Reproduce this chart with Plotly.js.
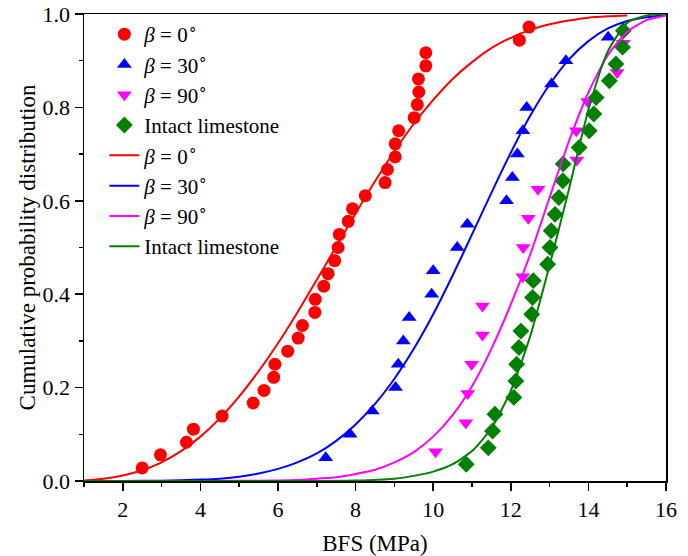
<!DOCTYPE html>
<html>
<head>
<meta charset="utf-8">
<script src="https://cdn.plot.ly/plotly-3.0.1.min.js"></script>
<style>html,body{margin:0;padding:0;background:#fff;}#chart{width:688px;height:556px;}</style>
</head>
<body>
<div id="chart"></div>
<script>
// Measured data (BFS in MPa, cumulative probability)
const redX = [2.50,2.97,3.64,3.82,4.56,5.36,5.64,5.89,5.92,6.25,6.52,6.63,6.95,6.96,7.18,7.29,7.46,7.55,7.58,7.81,7.92,8.25,8.76,8.82,9.02,9.02,9.11,9.51,9.59,9.63,9.62,9.81,9.81,12.22,12.47];
const redY = [0.028,0.056,0.083,0.111,0.139,0.167,0.194,0.222,0.250,0.278,0.306,0.333,0.361,0.389,0.417,0.444,0.472,0.500,0.528,0.556,0.583,0.611,0.639,0.667,0.694,0.722,0.750,0.778,0.806,0.833,0.861,0.889,0.917,0.944,0.972];

const blueX = [7.23,7.86,8.43,9.03,9.10,9.23,9.38,9.96,10.00,10.62,10.88,11.89,12.04,12.17,12.31,12.41,13.05,13.42,14.51];
const blueY = [0.05,0.10,0.15,0.20,0.25,0.30,0.35,0.40,0.45,0.50,0.55,0.60,0.65,0.70,0.75,0.80,0.85,0.90,0.95];

const magX = [10.06,10.84,10.89,10.99,11.27,11.27,12.31,12.32,12.45,12.70,13.70,13.69,13.98,14.74,14.90];
const magY = [0.0625,0.125,0.1875,0.25,0.3125,0.375,0.4375,0.5,0.5625,0.625,0.6875,0.75,0.8125,0.875,0.9375];

const grnX = [10.85,11.42,11.53,11.59,12.08,12.13,12.15,12.21,12.26,12.54,12.56,12.58,12.95,13.01,13.04,13.14,13.24,13.34,13.35,13.76,14.02,14.14,14.20,14.54,14.71,14.88,14.90];
const grnY = [0.036,0.071,0.107,0.143,0.179,0.214,0.250,0.286,0.321,0.357,0.393,0.429,0.464,0.500,0.536,0.571,0.607,0.643,0.679,0.714,0.750,0.786,0.821,0.857,0.893,0.929,0.964];

// Fitted curves
const redFitX = [1,1.5,2,2.5,3,3.5,4,4.5,5,5.5,6,6.5,7,7.5,8,8.5,9,9.5,10,10.5,11,11.5,12,12.5,13,13.5,14,14.5,15];
const redFitY = [0.001,0.005,0.012,0.023,0.040,0.064,0.095,0.134,0.181,0.235,0.295,0.361,0.431,0.502,0.573,0.642,0.706,0.765,0.816,0.861,0.897,0.927,0.949,0.966,0.978,0.986,0.992,0.995,0.997];

const blueFitX = [1,2,3,4,4.5,5,5.5,6,6.5,7,7.5,8,8.5,9,9.5,10,10.5,11,11.5,12,12.5,13,13.5,14,14.5,15,15.5,16];
const blueFitY = [0,0.0001,0.0006,0.003,0.005,0.009,0.016,0.026,0.040,0.059,0.086,0.121,0.165,0.219,0.283,0.357,0.440,0.528,0.617,0.703,0.782,0.849,0.903,0.942,0.969,0.985,0.993,0.998];

const magFitX = [1,3,5,6,6.5,7,7.5,8,8.5,9,9.5,10,10.5,11,11.5,12,12.5,13,13.5,14,14.5,15,15.5,16];
const magFitY = [0,0,0.0003,0.001,0.002,0.005,0.008,0.015,0.024,0.040,0.062,0.095,0.141,0.203,0.283,0.378,0.485,0.607,0.728,0.832,0.912,0.962,0.987,0.997];

const grnFitX = [1,4,7,8,9,9.5,10,10.5,11,11.5,12,12.5,13,13.5,14,14.5,15,15.5,16];
const grnFitY = [0,0,0.0002,0.001,0.005,0.011,0.020,0.036,0.064,0.113,0.193,0.310,0.462,0.625,0.795,0.920,0.981,0.997,1.0];

const names = ['<i>β</i> = 0<sup>∘</sup>', '<i>β</i> = 30<sup>∘</sup>', '<i>β</i> = 90<sup>∘</sup>', 'Intact limestone'];
const colors = ['#FF0000', '#0000FF', '#FF00FF', '#008000'];

const pts = [[redX, redY, 'circle'], [blueX, blueY, 'triangle-up'], [magX, magY, 'triangle-down'], [grnX, grnY, 'diamond']];
const fits = [[redFitX, redFitY], [blueFitX, blueFitY], [magFitX, magFitY], [grnFitX, grnFitY]];

const traces = [];
pts.forEach((p, i) => {
  traces.push({x: p[0], y: p[1], type: 'scatter', mode: 'markers', name: names[i],
    marker: {symbol: p[2], size: 13, color: colors[i], line: {width: 0}}, cliponaxis: false});
});
fits.forEach((f, i) => {
  traces.push({x: f[0], y: f[1], type: 'scatter', mode: 'lines', name: names[i],
    line: {color: colors[i], width: 2, shape: 'spline', smoothing: 0.6}});
});

const fontFam = '"Liberation Serif", "Times New Roman", serif';
const layout = {
  width: 688, height: 556,
  margin: {l: 84, r: 22, t: 14, b: 75, autoexpand: false},
  paper_bgcolor: '#fff', plot_bgcolor: '#fff',
  font: {family: fontFam, color: '#000', size: 22},
  showlegend: true,
  legend: {x: 0.035, y: 1.0, xanchor: 'left', yanchor: 'top', bgcolor: 'rgba(0,0,0,0)',
    font: {family: fontFam, size: 21, color: '#000'}, traceorder: 'normal'},
  xaxis: {range: [1, 16], tick0: 0, dtick: 2, ticks: 'outside', ticklen: 8, tickwidth: 1.5, tickcolor: '#000',
    showline: true, linewidth: 1.5, linecolor: '#000', mirror: true, showgrid: false, zeroline: false,
    automargin: true,
    minor: {tick0: 1, dtick: 2, ticks: 'outside', ticklen: 4, tickwidth: 1.5, tickcolor: '#000', showgrid: false},
    tickfont: {family: fontFam, size: 22}, title: {text: 'BFS (MPa)', font: {family: fontFam, size: 23}, standoff: 15}},
  yaxis: {range: [0, 1], tick0: 0, dtick: 0.2, tickformat: '.1f', ticks: 'outside', ticklen: 8, tickwidth: 1.5, tickcolor: '#000',
    showline: true, linewidth: 1.5, linecolor: '#000', mirror: true, showgrid: false, zeroline: false,
    automargin: true,
    minor: {tick0: 0.1, dtick: 0.2, ticks: 'outside', ticklen: 4, tickwidth: 1.5, tickcolor: '#000', showgrid: false},
    tickfont: {family: fontFam, size: 22}, title: {text: 'Cumulative probability distribution', font: {family: fontFam, size: 23}, standoff: 0}}
};

Plotly.newPlot('chart', traces, layout, {displayModeBar: false, staticPlot: true});
</script>
</body>
</html>
